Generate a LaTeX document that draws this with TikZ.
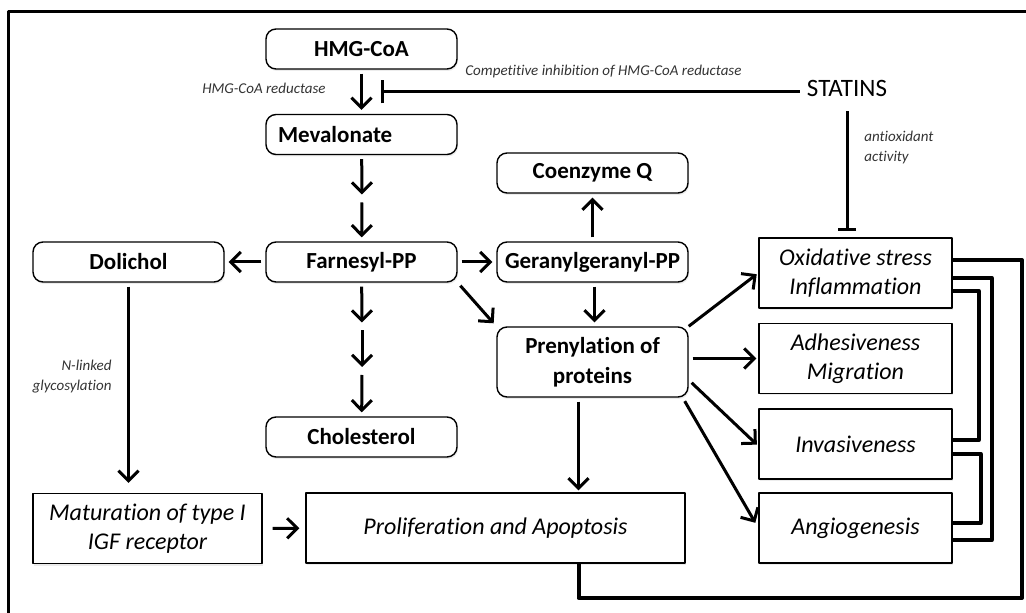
\documentclass[tikz,border=0pt]{standalone}
\usepackage{fontspec}
\setmainfont{Carlito}[RawFeature={-liga;-clig;-calt;-dlig}]
\usetikzlibrary{arrows.meta,shadows}

\begin{document}
\begin{tikzpicture}[x=0.5pt, y=-0.5pt, line join=round, >={Straight Barb[length=5pt,width=10pt]},
	rbox/.style={draw, line width=0.7pt, rounded corners=5pt, fill=white, minimum width=95.5pt, minimum height=20pt, inner sep=2pt, align=center, font=\fontsize{11.5}{15}\selectfont\bfseries, drop shadow={shadow xshift=0.5pt, shadow yshift=-1pt, fill=black!15}},
	ibox/.style={draw, line width=0.7pt, fill=white, minimum width=96.5pt, minimum height=35pt, inner sep=2pt, align=center, font=\fontsize{12}{14.5}\selectfont\itshape, drop shadow={shadow xshift=0.5pt, shadow yshift=-1pt, fill=black!15}},
	flow/.style={->, line width=1.5pt, shorten <=2pt, shorten >=2pt},
	back/.style={line width=2pt},
	lbl/.style={inner sep=1pt, text=black!80, font=\fontsize{7.5}{10}\selectfont\itshape}]
	\useasboundingbox (0,0) rectangle (1026,613);
	% frame
	\draw[line width=1.5pt] (8,630) -- (8,12) -- (1040,12);
	
	% mevalonate pathway
	\node[rbox] (hmg) at (361.5,49) {HMG-CoA};
	\node[rbox, text width=83.5pt, align=left, inner xsep=6pt] (meva) at (361.5,134.5) {Mevalonate};
	\node[rbox] (farn) at (361.5,262) {Farnesyl-PP};
	\node[rbox] (doli) at (128.5,262) {Dolichol};
	\node[rbox] (gera) at (592.5,262) {Geranylgeranyl-PP};
	\node[rbox] (coq) at (592.5,173) {Coenzyme Q};
	\node[rbox] (chol) at (361.5,437) {Cholesterol};
	\node[rbox, minimum height=35pt] (pren) at (592.5,362) {Prenylation of\\proteins};
	
	% effects
	\node[ibox] (oxid) at (855.5,273) {Oxidative stress\\Inflammation};
	\node[ibox] (adhe) at (855.5,358.5) {Adhesiveness\\Migration};
	\node[ibox] (inva) at (855.5,444) {Invasiveness};
	\node[ibox] (angi) at (855.5,528) {Angiogenesis};
	\node[ibox, minimum width=114.5pt] (matu) at (147.5,528.5) {Maturation of type I\\IGF receptor};
	\node[ibox, minimum width=189.5pt] (prol) at (495.5,528) {Proliferation and Apoptosis};
	
	\node[font=\fontsize{12.5}{14}\selectfont] (stat) at (847,88) {STATINS};
	
	% labels
	\node[lbl, anchor=east] (lred) at (328,88) {HMG-CoA reductase};
	\node[lbl, anchor=west] (linh) at (463,72) {Competitive inhibition of HMG-CoA reductase};
	\node[lbl, anchor=west, align=left] (lanti) at (862,148) {antioxidant\\activity};
	\node[lbl, anchor=east, align=right] (lglyc) at (114,377) {N-linked\\glycosylation};
	
	\coordinate (inh) at (381,92);
	\coordinate (m1) at (362,198.5);
	\coordinate (c1) at (362,326.5);
	\coordinate (c2) at (362,371);
	
	\draw[flow] (hmg) -- (meva);
	\draw[line width=1.5pt, -{Bar[width=11.5pt]}] (stat.west |- inh) -- (inh);
	\draw[line width=1.5pt, -{Bar[width=9pt]}, shorten <=4pt, shorten >=3pt] (stat.south) -- (oxid.north -| stat.south);
	\draw[flow] (meva) -- (m1);
	\draw[flow] (m1) -- (farn);
	\draw[flow] (farn) -- (c1);
	\draw[flow] (c1) -- (c2);
	\draw[flow] (c2) -- (chol);
	\draw[flow] (farn) -- (doli);
	\draw[flow] (farn) -- (gera);
	\draw[flow] (gera) -- (coq);
	\draw[flow] ([xshift=1pt]gera.south) -- ([xshift=1pt]pren.north);
	\draw[flow] (farn.south east) -- (pren.north west);
	\draw[flow, shorten >=5pt] (doli) -- (doli |- matu.north);
	\draw[flow, shorten <=5pt, shorten >=3pt] (matu) -- (prol);
	\draw[flow, shorten >=1pt] ([xshift=-7pt]pren.south) -- ([xshift=-7pt]pren.south |- prol.north);
	\draw[flow, shorten <=0pt, shorten >=1pt] (pren.north east) -- (oxid.west);
	\draw[flow, shorten >=1pt] (pren.east |- adhe.west) -- (adhe.west);
	\draw[flow, shorten >=1pt] ([yshift=-9pt]pren.east) -- ([yshift=-1pt]inva.west);
	\draw[flow, shorten >=3pt] ([xshift=-3pt]pren.south east) -- (angi.west);
	
	% feedback lines
	\draw[back] ([yshift=6.5pt]oxid.east) -| (1022,598) -| ([xshift=-7pt]pren.south |- prol.south);
	\draw[back] ([yshift=-2.5pt]oxid.east) -| ([xshift=19.5pt,yshift=-6pt]angi.east) -- ([yshift=-6pt]angi.east);
	\draw[back] ([yshift=-9pt]oxid.east) -| ([xshift=13pt,yshift=2pt]inva.east) -- ([yshift=2pt]inva.east);
	\draw[back] ([yshift=-5pt]inva.east) -| ([xshift=14pt,yshift=2.5pt]angi.east) -- ([yshift=2.5pt]angi.east);
\end{tikzpicture}
\end{document}
